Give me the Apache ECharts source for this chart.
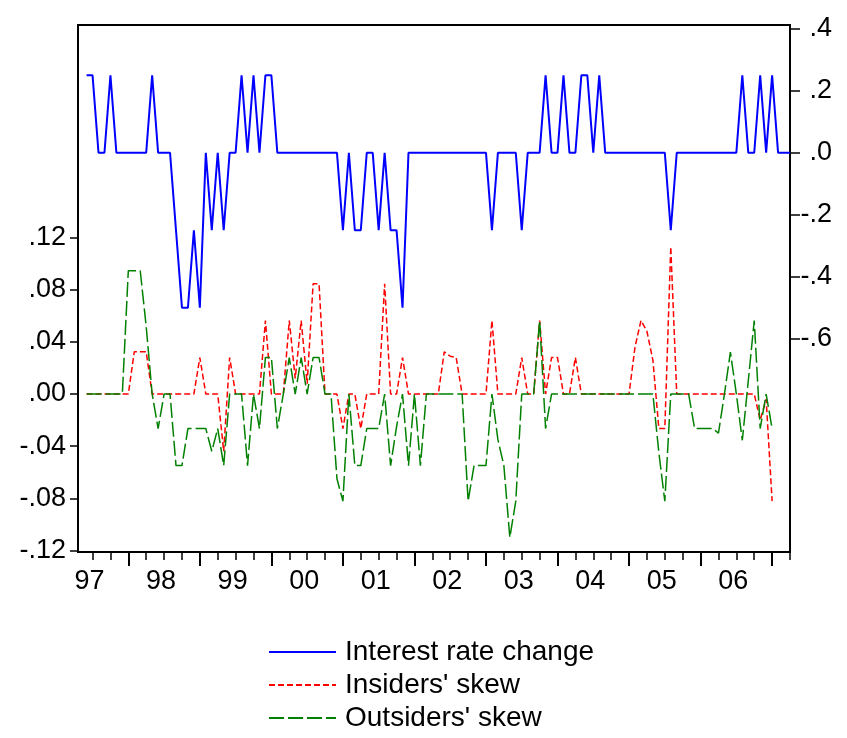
<!DOCTYPE html>
<html>
<head>
<meta charset="utf-8">
<script src="https://cdn.jsdelivr.net/npm/echarts@6/dist/echarts.min.js"></script>
<style>
  html, body { margin: 0; padding: 0; background: #fff; }
  #chart { width: 847px; height: 738px; }
</style>
</head>
<body>
<div id="chart"></div>
<script>
// months counted from Jan 1997 = 0, first observation is Jun 1997
const startMonth = 5
const yearLabels = ['97', '98', '99', '00', '01', '02', '03', '04', '05', '06']
const leftTicks = [-0.12, -0.08, -0.04, 0, 0.04, 0.08, 0.12]
const rightTicks = [-0.6, -0.4, -0.2, 0, 0.2, 0.4]

// interest rate change (right axis)
const rateChange = [
  0.25, 0.25, 0, 0, 0.25, 0, 0, 0, 0, 0,
  0, 0.25, 0, 0, 0, -0.25, -0.5, -0.5, -0.25, -0.5,
  0, -0.25, 0, -0.25, 0, 0, 0.25, 0, 0.25, 0,
  0.25, 0.25, 0, 0, 0, 0, 0, 0, 0, 0,
  0, 0, 0, -0.25, 0, -0.25, -0.25, 0, 0, -0.25,
  0, -0.25, -0.25, -0.5, 0, 0, 0, 0, 0, 0,
  0, 0, 0, 0, 0, 0, 0, 0, -0.25, 0,
  0, 0, 0, -0.25, 0, 0, 0, 0.25, 0, 0,
  0.25, 0, 0, 0.25, 0.25, 0, 0.25, 0, 0, 0,
  0, 0, 0, 0, 0, 0, 0, 0, -0.25, 0,
  0, 0, 0, 0, 0, 0, 0, 0, 0, 0,
  0.25, 0, 0, 0.25, 0, 0.25, 0, 0, 0
]

// insiders' skew (left axis)
const insidersSkew = [
  0, 0, 0, 0, 0, 0, 0, 0, 0.0324, 0.0324,
  0.0324, 0, 0, 0, 0, 0, 0, 0, 0, 0.028,
  0, 0, 0, -0.0439, 0.028, 0, 0, 0, 0, 0,
  0.0564, 0, 0, 0, 0.0564, 0.012, 0.0564, 0.008, 0.0845, 0.0845,
  0, 0, 0, -0.0265, 0, 0, -0.0265, 0, 0, 0,
  0.0845, 0, 0, 0.028, 0, 0, 0, 0, 0, 0,
  0.0324, 0.029, 0.028, 0, 0, 0, 0, 0, 0.0564, 0,
  0, 0, 0, 0.028, 0, 0, 0.0564, 0, 0.028, 0.028,
  0, 0, 0.028, 0, 0, 0, 0, 0, 0, 0,
  0, 0, 0.036, 0.0564, 0.048, 0.026, -0.0265, -0.0265, 0.113, 0,
  0, 0, 0, 0, 0, 0, 0, 0, 0, 0,
  0, 0, 0, -0.02, -0.004, -0.0822
]

// outsiders' skew (left axis)
const outsidersSkew = [
  0, 0, 0, 0, 0, 0, 0, 0.0946, 0.0946, 0.0946,
  0.0518, 0, -0.0265, 0, 0, -0.0549, -0.0549, -0.0265, -0.0265, -0.0265,
  -0.0265, -0.0439, -0.0265, -0.0549, 0, 0, 0, -0.0549, 0, -0.0265,
  0.0281, 0.0281, -0.0265, 0, 0.028, 0, 0.028, 0, 0.028, 0.028,
  0, 0, -0.065, -0.0822, 0, -0.0549, -0.0549, -0.0265, -0.0265, -0.0265,
  0, -0.0549, -0.025, 0, -0.0549, 0, -0.0549, 0, 0, 0,
  0, 0, 0, 0, -0.0822, -0.0549, -0.0549, -0.0549, 0, -0.035,
  -0.0549, -0.11, -0.0822, 0, 0, 0, 0.0564, -0.0265, 0, 0,
  0, 0, 0, 0, 0, 0, 0, 0, 0, 0,
  0, 0, 0, 0, 0, 0, -0.045, -0.0822, 0, 0,
  0, 0, -0.0265, -0.0265, -0.0265, -0.0265, -0.03, 0, 0.0322, 0,
  -0.0355, 0.01, 0.0564, -0.0265, 0, -0.0265
]

const font = "'Liberation Sans', Arial, sans-serif"

function toPoints (arr) {
  return arr.map((v, i) => [startMonth + i, v])
}

// EViews style labels: .04, -.2
function fmt (v, digits) {
  let s = Math.abs(v).toFixed(digits).replace(/^0/, '')
  return (v < -1e-9 ? '-' : '') + s
}

const quarterTicks = []
for (let m = 6; m <= 123; m += 3) quarterTicks.push(m)
const yearTicks = []
for (let m = 12; m <= 120; m += 12) yearTicks.push(m)
const labelPos = yearLabels.map((y, i) => i * 12 + 5.5)

let myChart = echarts.init(document.getElementById('chart'))
myChart.setOption({
  animation: false,
  backgroundColor: '#fff',
  grid: {
    left: 78,
    right: 57,
    top: 25,
    bottom: 186,
    show: true,
    borderColor: '#000',
    borderWidth: 2
  },
  legend: {
    orient: 'vertical',
    left: 268,
    top: 638,
    height: 110,
    padding: 0,
    itemWidth: 67,
    itemHeight: 14,
    itemGap: 5,
    itemStyle: { opacity: 0 },
    textStyle: { fontSize: 28, color: '#000', fontFamily: font, padding: [0, 0, 0, 4] },
    data: ['Interest rate change', "Insiders' skew", "Outsiders' skew"]
  },
  xAxis: [
    {
      type: 'value',
      min: 3.56,
      max: 123,
      axisLine: { onZero: false, lineStyle: { color: '#000', width: 2 } },
      axisTick: { customValues: quarterTicks, length: 8, lineStyle: { color: '#000', width: 1.5 } },
      axisLabel: {
        customValues: labelPos,
        margin: 16,
        fontSize: 27,
        color: '#000',
        fontFamily: font,
        formatter: v => yearLabels[Math.round((v - 5.5) / 12)]
      },
      splitLine: { show: false }
    },
    {
      // longer ticks at year boundaries
      type: 'value',
      min: 3.56,
      max: 123,
      position: 'bottom',
      axisLine: { show: false, onZero: false },
      axisTick: { customValues: yearTicks, length: 14, lineStyle: { color: '#000', width: 2 } },
      axisLabel: { show: false },
      splitLine: { show: false }
    }
  ],
  yAxis: [
    {
      type: 'value',
      position: 'left',
      min: -0.1212,
      max: 0.2831,
      axisLine: { show: true, onZero: false, lineStyle: { color: '#000', width: 2 } },
      axisTick: { show: true, customValues: leftTicks, length: 8, lineStyle: { color: '#000', width: 1.5 } },
      axisLabel: {
        customValues: leftTicks,
        margin: 12,
        fontSize: 27,
        color: '#000',
        fontFamily: font,
        formatter: v => fmt(v, 2)
      },
      splitLine: { show: false }
    },
    {
      type: 'value',
      position: 'right',
      min: -1.288,
      max: 0.412,
      axisLine: { show: true, onZero: false, lineStyle: { color: '#000', width: 2 } },
      axisTick: { show: true, customValues: rightTicks, length: 10, lineStyle: { color: '#000', width: 1.5 } },
      axisLabel: {
        customValues: rightTicks,
        margin: 42,
        align: 'right',
        fontSize: 27,
        color: '#000',
        fontFamily: font,
        formatter: v => fmt(v, 1)
      },
      splitLine: { show: false }
    }
  ],
  series: [
    {
      name: 'Interest rate change',
      type: 'line',
      yAxisIndex: 1,
      symbol: 'none',
      data: toPoints(rateChange),
      lineStyle: { color: '#0000ff', width: 2 },
      itemStyle: { color: '#0000ff' }
    },
    {
      name: "Insiders' skew",
      type: 'line',
      yAxisIndex: 0,
      symbol: 'none',
      data: toPoints(insidersSkew),
      lineStyle: { color: '#ff0000', width: 1.5, type: [6, 3] },
      itemStyle: { color: '#ff0000' }
    },
    {
      name: "Outsiders' skew",
      type: 'line',
      yAxisIndex: 0,
      symbol: 'none',
      data: toPoints(outsidersSkew),
      lineStyle: { color: '#008000', width: 1.5, type: [15, 4] },
      itemStyle: { color: '#008000' }
    }
  ]
})
</script>
</body>
</html>
